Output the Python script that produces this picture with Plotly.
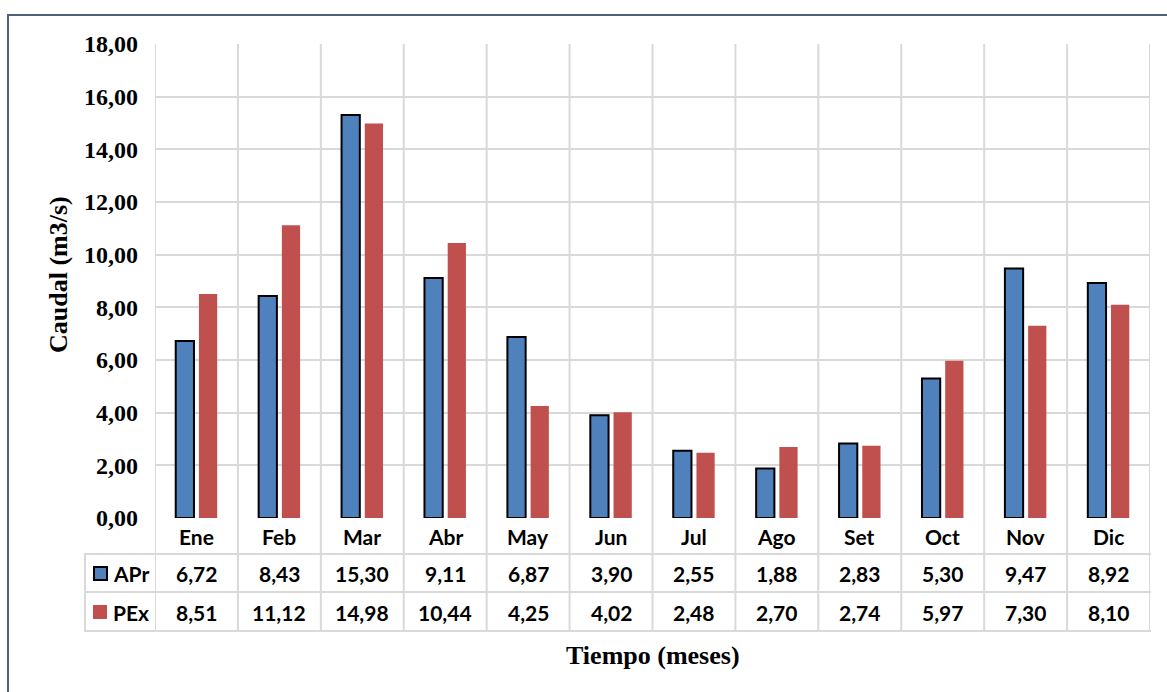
import plotly.graph_objects as go

months = ["Ene", "Feb", "Mar", "Abr", "May", "Jun", "Jul", "Ago", "Set", "Oct", "Nov", "Dic"]
apr = [6.72, 8.43, 15.30, 9.11, 6.87, 3.90, 2.55, 1.88, 2.83, 5.30, 9.47, 8.92]
pex = [8.51, 11.12, 14.98, 10.44, 4.25, 4.02, 2.48, 2.70, 2.74, 5.97, 7.30, 8.10]
series_names = ["APr", "PEx"]
y_title = "Caudal (m3/s)"
x_title = "Tiempo (meses)"

BLUE = "#4F81BD"
RED = "#C0504D"
GRID = "#D9D9D9"
SERIF = "Liberation Serif"
SANS = "Lato"

W, H = 1167, 692
L, R, T, B = 155, 1150, 44, 518
pw, ph = R - L, B - T


def xp(px):
    return (px - L) / pw


def yp(py):
    return (B - py) / ph


def fmt(v):
    return f"{v:.2f}".replace(".", ",")


fig = go.Figure()
idx = list(range(len(months)))
fig.add_trace(go.Bar(x=idx, y=apr, name=series_names[0], width=0.22, offset=-0.25,
                     marker=dict(color=BLUE, line=dict(color="black", width=2))))
fig.add_trace(go.Bar(x=idx, y=pex, name=series_names[1], width=0.22, offset=0.03,
                     marker=dict(color=RED, line=dict(width=0))))

shapes = []
n = len(months)
y_hdr_bot, y_r1_bot, y_r2_bot = 554, 592, 631
for i in range(n + 1):
    shapes.append(dict(type="line", xref="x", yref="paper", x0=i - 0.5, x1=i - 0.5,
                       y0=yp(y_r2_bot), y1=1, line=dict(color=GRID, width=2), layer="below"))
shapes.append(dict(type="line", xref="paper", yref="paper", x0=xp(85), x1=xp(85),
                   y0=yp(y_r2_bot), y1=yp(y_hdr_bot), line=dict(color=GRID, width=2)))
for yy in (y_hdr_bot, y_r1_bot, y_r2_bot):
    shapes.append(dict(type="line", xref="paper", yref="paper", x0=xp(84), x1=1.001,
                       y0=yp(yy), y1=yp(yy), line=dict(color=GRID, width=2)))
shapes.append(dict(type="rect", xref="paper", yref="paper", x0=xp(94), x1=xp(107),
                   y0=yp(580), y1=yp(567), fillcolor=BLUE, line=dict(color="black", width=2)))
shapes.append(dict(type="rect", xref="paper", yref="paper", x0=xp(93), x1=xp(107),
                   y0=yp(619), y1=yp(605), fillcolor=RED, line=dict(width=0)))
shapes.append(dict(type="rect", xref="paper", yref="paper", x0=xp(8), x1=xp(1180),
                   y0=yp(710), y1=yp(15), line=dict(color="#4F5F7C", width=2)))

ann = []
tf = dict(family=SANS, size=21, color="black", weight="bold")
for i, m in enumerate(months):
    ann.append(dict(x=i, y=yp(536), xref="x", yref="paper", text=m, showarrow=False,
                    font=tf, xanchor="center", yanchor="middle"))
    ann.append(dict(x=i, y=yp(573), xref="x", yref="paper", text=fmt(apr[i]), showarrow=False,
                    font=tf, xanchor="center", yanchor="middle"))
    ann.append(dict(x=i, y=yp(612), xref="x", yref="paper", text=fmt(pex[i]), showarrow=False,
                    font=tf, xanchor="center", yanchor="middle"))
ann.append(dict(x=xp(111), y=yp(573), xref="paper", yref="paper", text=series_names[0],
                showarrow=False, font=tf, xanchor="left", yanchor="middle"))
ann.append(dict(x=xp(111), y=yp(612), xref="paper", yref="paper", text=series_names[1],
                showarrow=False, font=tf, xanchor="left", yanchor="middle"))
ann.append(dict(x=xp(58), y=yp(275), xref="paper", yref="paper", text=y_title, textangle=-90,
                showarrow=False, font=dict(family=SERIF, size=26, color="black", weight="bold"),
                xanchor="center", yanchor="middle"))
ann.append(dict(x=xp(653), y=yp(655), xref="paper", yref="paper", text=x_title,
                showarrow=False, font=dict(family=SERIF, size=26, color="black", weight="bold"),
                xanchor="center", yanchor="middle"))

fig.update_layout(
    width=W, height=H,
    margin=dict(l=L, r=W - R, t=T, b=H - B, autoexpand=False),
    plot_bgcolor="white", paper_bgcolor="white",
    showlegend=False,
    separators=",.",
    shapes=shapes,
    annotations=ann,
    xaxis=dict(range=[-0.5, n - 0.5], showgrid=False, showticklabels=False, ticks="",
               zeroline=False, showline=False, fixedrange=True),
    yaxis=dict(range=[0, 18], dtick=2, tickformat=".2f", showgrid=True, gridcolor=GRID,
               gridwidth=2, zeroline=False, showline=False, ticks="",
               tickfont=dict(family=SERIF, size=24, color="black", weight="bold"),
               ticklabelstandoff=16),
)

fig.write_html("out.html")
